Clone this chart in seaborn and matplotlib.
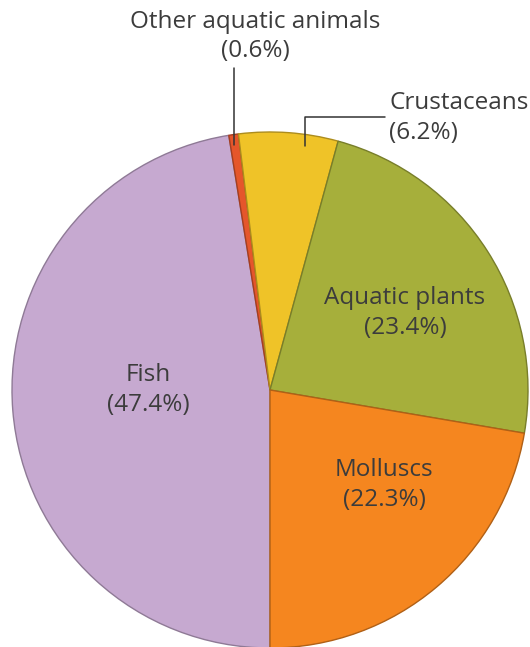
import matplotlib
matplotlib.use("Agg")
import matplotlib.pyplot as plt
import numpy as np
import seaborn as sns
from matplotlib.colors import to_rgb

# Production shares by group, clockwise from the bottom of the pie
categories = ["Fish", "Other aquatic animals", "Crustaceans", "Aquatic plants", "Molluscs"]
shares = [47.4, 0.6, 6.2, 23.4, 22.3]
slice_colors = ["#C6A9D0", "#E5562B", "#EFC328", "#A6AF3B", "#F5861F"]

sns.set_theme(style="white")
plt.rcParams["font.family"] = ["Open Sans", "DejaVu Sans"]

W, H = 530, 647
fig = plt.figure(figsize=(W / 100, H / 100), dpi=100)
cx, cy, r = 270, 390, 258
ax = fig.add_axes([(cx - r) / W, (H - cy - r) / H, 2 * r / W, 2 * r / H])

palette = sns.color_palette(slice_colors)
edges = [tuple(c * 0.72 for c in to_rgb(col)) for col in palette]

wedges, _ = ax.pie(shares, colors=palette, startangle=-90, counterclock=False,
                   radius=1, center=(0, 0), frame=False)
for w, ec in zip(wedges, edges):
    w.set_edgecolor(ec)
    w.set_linewidth(1.0)

ax.set_xlim(-1, 1)
ax.set_ylim(-1, 1)
ax.set_aspect("equal")
ax.axis("off")

txt = "#3c3c3c"
fs = 17.5
ls = 1.3


def label(i):
    return f"{categories[i]}\n({shares[i]}%)"


# Labels inside the larger slices
ax.text(-0.473, 0.0, label(0), ha="center", va="center", fontsize=fs, color=txt,
        linespacing=ls)
ax.text(0.523, 0.298, label(3), ha="center", va="center", fontsize=fs, color=txt,
        linespacing=ls)
ax.text(0.442, -0.368, label(4), ha="center", va="center", fontsize=fs, color=txt,
        linespacing=ls)

# Callout for the thin "other" slice: vertical leader into the wedge
w_other = wedges[1]
mid = np.deg2rad((w_other.theta1 + w_other.theta2) / 2)
lx = np.cos(mid)
ax.text(-0.058, 1.37, label(1), ha="center", va="center", fontsize=fs, color=txt,
        linespacing=ls, clip_on=False)
ax.plot([lx, lx], [1.248, 0.95], color="#333333", lw=1.1, clip_on=False)

# Callout for crustaceans: elbow leader
ax.text(0.463, 1.054, label(2), ha="left", va="center", fontsize=fs, color=txt,
        linespacing=ls, clip_on=False)
ax.plot([0.136, 0.136, 0.446], [0.946, 1.058, 1.058], color="#333333", lw=1.1,
        clip_on=False)

fig.savefig("out.png", dpi=100)
